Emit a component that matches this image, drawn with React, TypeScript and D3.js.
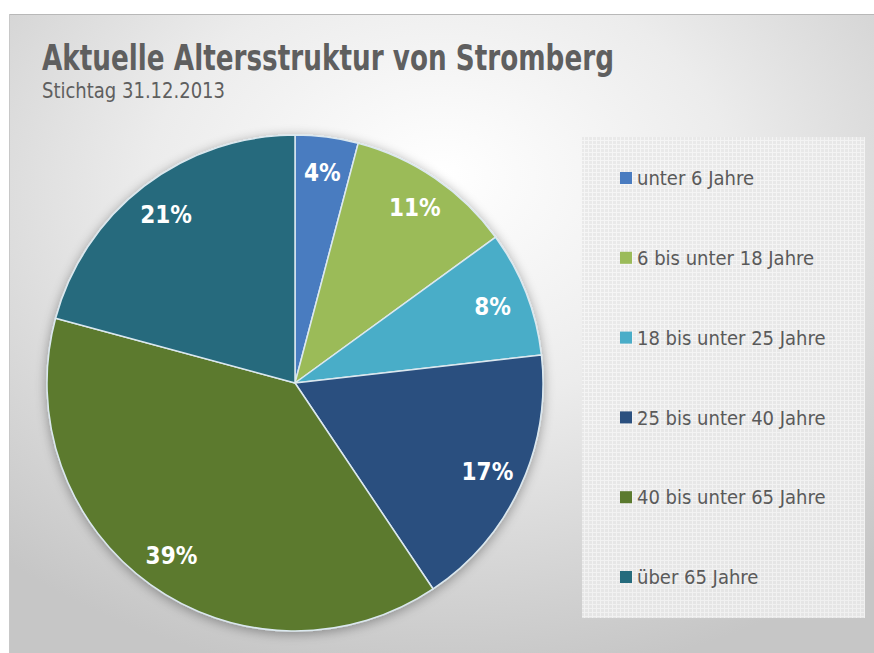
import React from "react";
import * as d3 from "d3";

const categories = [
  "unter 6 Jahre",
  "6 bis unter 18 Jahre",
  "18 bis unter 25 Jahre",
  "25 bis unter 40 Jahre",
  "40 bis unter 65 Jahre",
  "über 65 Jahre",
];
const values = [4.1, 10.9, 8.2, 17.4, 38.6, 20.8];
const colors = ["#4a7cc0", "#9bbb59", "#4aadc8", "#2b507f", "#5b7a2e", "#256b7d"];
const title = "Aktuelle Altersstruktur von Stromberg";
const subtitle = "Stichtag 31.12.2013";

const W = 874;
const H = 653;
const FONT = "'DejaVu Sans Condensed', 'Open Sans', sans-serif";

export default function App() {
  const cx = 295;
  const cy = 383;
  const r = 248;
  const pie = d3.pie<number>().sort(null).value((d) => d)(values);
  const arc = d3.arc<d3.PieArcDatum<number>>().innerRadius(0).outerRadius(r);
  const labelArc = d3.arc<d3.PieArcDatum<number>>().innerRadius(r * 0.855).outerRadius(r * 0.855);
  const legendY = d3.scalePoint<number>().domain(d3.range(categories.length)).range([178, 577]);

  return (
    <svg width={W} height={H} style={{ position: "absolute", left: 0, top: 0 }}>
      <defs>
        <radialGradient id="bg" cx="0.5" cy="0.3" r="0.75" fx="0.5" fy="0.25">
          <stop offset="0" stopColor="#ffffff" />
          <stop offset="0.45" stopColor="#ececec" />
          <stop offset="1" stopColor="#c6c6c6" />
        </radialGradient>
        <pattern id="grid" width="4" height="4" patternUnits="userSpaceOnUse">
          <rect width="4" height="4" fill="#e8e8e8" />
          <path d="M0 0.5 H4 M0.5 0 V4" stroke="#f5f5f5" strokeWidth="1" />
        </pattern>
        <filter id="shadow" x="-20%" y="-20%" width="140%" height="140%">
          <feGaussianBlur in="SourceAlpha" stdDeviation="6" />
          <feOffset dx="0" dy="2" result="b" />
          <feComponentTransfer>
            <feFuncA type="linear" slope="0.35" />
          </feComponentTransfer>
          <feMerge>
            <feMergeNode />
            <feMergeNode in="SourceGraphic" />
          </feMerge>
        </filter>
      </defs>
      <rect x={0} y={0} width={W} height={H} fill="#ffffff" />
      <rect x={9} y={14} width={W - 9} height={H - 14} fill="url(#bg)" />
      <line x1={9} y1={14.5} x2={W} y2={14.5} stroke="#b8b8b8" strokeWidth={1} />
      <line x1={9.5} y1={14} x2={9.5} y2={H} stroke="#c8c8c8" strokeWidth={1} />

      <text
        x={42}
        y={70}
        fontFamily={FONT}
        fontWeight="bold"
        fontSize={36}
        fill="#5f5f5f"
        textLength={572}
        lengthAdjust="spacingAndGlyphs"
      >
        {title}
      </text>
      <text
        x={42}
        y={98}
        fontFamily={FONT}
        fontSize={22}
        fill="#5f5f5f"
        textLength={183}
        lengthAdjust="spacingAndGlyphs"
      >
        {subtitle}
      </text>

      <g transform={`translate(${cx},${cy})`} filter="url(#shadow)">
        {pie.map((p, i) => (
          <path key={i} d={arc(p) || ""} fill={colors[i]} stroke="#dbe8ef" strokeWidth={1.5} strokeLinejoin="round" />
        ))}
      </g>
      <g transform={`translate(${cx},${cy})`}>
        {pie.map((p, i) => {
          const [lx, ly] = labelArc.centroid(p);
          return (
            <text
              key={i}
              x={lx}
              y={ly}
              dy="0.35em"
              textAnchor="middle"
              fontFamily={FONT}
              fontWeight="bold"
              fontSize={24}
              fill="#ffffff"
            >
              {`${Math.round(p.data)}%`}
            </text>
          );
        })}
      </g>

      <rect x={582} y={137} width={283} height={481} fill="url(#grid)" opacity={0.9} />
      {categories.map((c, i) => (
        <g key={i} transform={`translate(620,${legendY(i)})`}>
          <rect x={0} y={-6} width={12} height={12} fill={colors[i]} />
          <text x={17} y={0} dy="0.36em" fontFamily={FONT} fontSize={20} fill="#5a5a5a">
            {c}
          </text>
        </g>
      ))}
    </svg>
  );
}
